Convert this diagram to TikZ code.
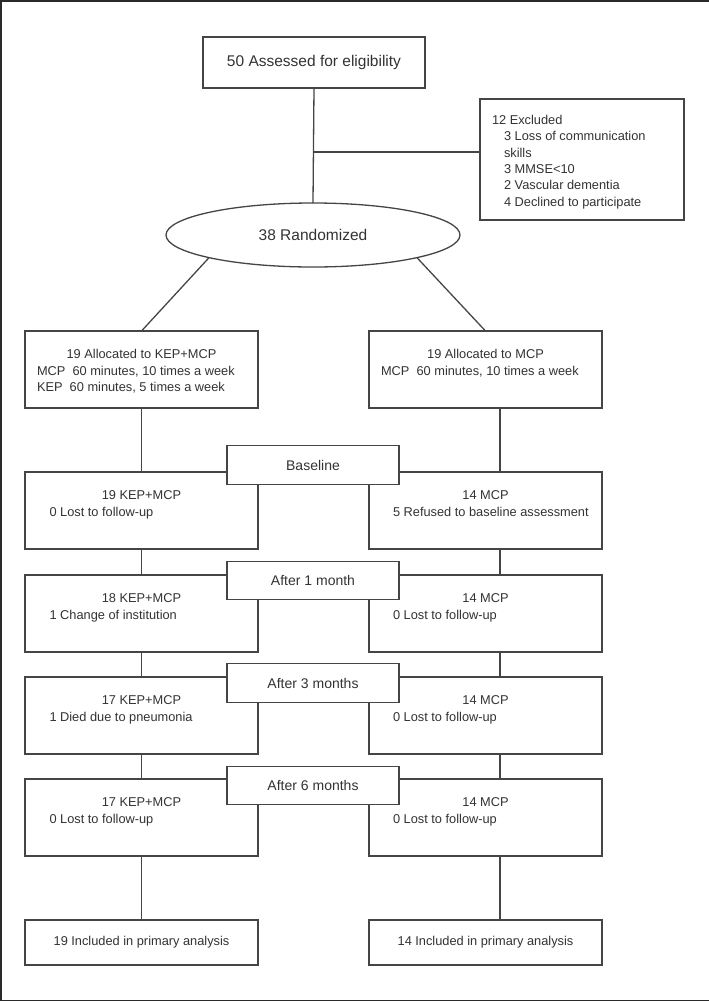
\documentclass[tikz,border=0pt]{standalone}
\usepackage{fontspec}
\setmainfont{Liberation Sans}
\usetikzlibrary{shapes.geometric}
\definecolor{ln}{HTML}{454545}
\definecolor{tx}{HTML}{333333}
\definecolor{fr}{HTML}{2A2A2A}
\begin{document}
\begin{tikzpicture}[x=1pt,y=-1pt,
  box/.style={draw=ln, line width=1.3pt, fill=white, inner sep=0pt, outer sep=0pt, text=tx},
  wbox/.style={box, minimum width=233pt, minimum height=77pt},
  fbox/.style={box, minimum width=233pt, minimum height=45pt, font=\fontsize{12.8}{15}\selectfont},
  tbox/.style={box, minimum width=172pt, minimum height=38.5pt, font=\fontsize{14}{16}\selectfont},
  conn/.style={draw=ln, line width=1.3pt},
  txt/.style={inner sep=0pt, outer sep=0pt, text=tx, font=\fontsize{12.8}{15}\selectfont},
  ctxt/.style={txt, anchor=base},
  ltxt/.style={txt, anchor=base west},
]
\useasboundingbox (0,0) rectangle (709,1002);
\draw[draw=fr, line width=1.6pt] (709,1.2) -- (0.8,1.2) -- (0.8,1000.3) -- (709,1000.3);

% top part
\node[box, minimum width=222pt, minimum height=51pt, font=\fontsize{15.5}{18}\selectfont] (A) at (314,62.5) {50 Assessed for eligibility};
\node[box, minimum width=204pt, minimum height=121pt] (E) at (582,159.5) {};
\node[ltxt] (e1) at (492,124.6) {12 Excluded};
\node[ltxt] (e2) at (504,140.9) {3 Loss of communication};
\node[ltxt] (e3) at (504,157.2) {skills};
\node[ltxt] (e4) at (504,173.5) {3 MMSE<10};
\node[ltxt] (e5) at (504,189.8) {2 Vascular dementia};
\node[ltxt] (e6) at (504,206.1) {4 Declined to participate};
\node[box, ellipse, minimum width=294pt, minimum height=64pt, font=\fontsize{15.5}{18}\selectfont] (R) at (313,235) {38 Randomized};
\coordinate (br) at (314,152);
\coordinate (rx) at (500,0);
\draw[conn] (A.south) -- (R.north);
\draw[conn] (br) -- (br -| E.west);

% allocation
\node[wbox] (K0) at (141.5,369.5) {};
\node[wbox] (M0) at (485.5,369.5) {};
\node[ctxt] (k0a) at (141.5,358.6) {19 Allocated to KEP+MCP};
\node[ltxt] (k0b) at (37,375.6) {MCP~~60 minutes, 10 times a week};
\node[ltxt] (k0c) at (37,391.6) {KEP~~60 minutes, 5 times a week};
\node[ctxt] (m0a) at (485.5,358.6) {19 Allocated to MCP};
\node[ltxt] (m0b) at (381,375.6) {MCP~~60 minutes, 10 times a week};
\draw[conn] (R.south west) -- (K0.north);
\draw[conn] (R.south east) -- (M0.north);

% follow-up rows
\node[wbox] (K1) at (141.5,510.5) {};
\node[wbox] (M1) at (485.5,510.5) {};
\node[wbox] (K2) at (141.5,613.5) {};
\node[wbox] (M2) at (485.5,613.5) {};
\node[wbox] (K3) at (141.5,715.5) {};
\node[wbox] (M3) at (485.5,715.5) {};
\node[wbox] (K4) at (141.5,817.5) {};
\node[wbox] (M4) at (485.5,817.5) {};
\node[fbox] (KF) at (141.5,942.5) {19 Included in primary analysis};
\node[fbox] (MF) at (485.5,942.5) {14 Included in primary analysis};

\node[ctxt] (k1a) at (141.5,499.5) {19 KEP+MCP};
\node[ltxt] (k1b) at (49.5,516.5) {0 Lost to follow-up};
\node[ctxt] (m1a) at (485.5,499.5) {14 MCP};
\node[ltxt] (m1b) at (393,516.5) {5 Refused to baseline assessment};
\node[ctxt] (k2a) at (141.5,602.5) {18 KEP+MCP};
\node[ltxt] (k2b) at (49.5,619.5) {1 Change of institution};
\node[ctxt] (m2a) at (485.5,602.5) {14 MCP};
\node[ltxt] (m2b) at (393,619.5) {0 Lost to follow-up};
\node[ctxt] (k3a) at (141.5,704.5) {17 KEP+MCP};
\node[ltxt] (k3b) at (49.5,721.5) {1 Died due to pneumonia};
\node[ctxt] (m3a) at (485.5,704.5) {14 MCP};
\node[ltxt] (m3b) at (393,721.5) {0 Lost to follow-up};
\node[ctxt] (k4a) at (141.5,806.5) {17 KEP+MCP};
\node[ltxt] (k4b) at (49.5,823.5) {0 Lost to follow-up};
\node[ctxt] (m4a) at (485.5,806.5) {14 MCP};
\node[ltxt] (m4b) at (393,823.5) {0 Lost to follow-up};

% connectors
\draw[conn] (K0.south) -- (K1.north);
\draw[conn] (K1.south) -- (K2.north);
\draw[conn] (K2.south) -- (K3.north);
\draw[conn] (K3.south) -- (K4.north);
\draw[conn] (K4.south) -- (KF.north);
\draw[conn] (M0.south -| rx) -- (M1.north -| rx);
\draw[conn] (M1.south -| rx) -- (M2.north -| rx);
\draw[conn] (M2.south -| rx) -- (M3.north -| rx);
\draw[conn] (M3.south -| rx) -- (M4.north -| rx);
\draw[conn] (M4.south -| rx) -- (MF.north -| rx);

% time points
\node[tbox] (T0) at (313,465) {Baseline};
\node[tbox] (T1) at (313,580.5) {After 1 month};
\node[tbox] (T2) at (313,683) {After 3 months};
\node[tbox] (T3) at (313,785.5) {After 6 months};
\end{tikzpicture}
\end{document}
